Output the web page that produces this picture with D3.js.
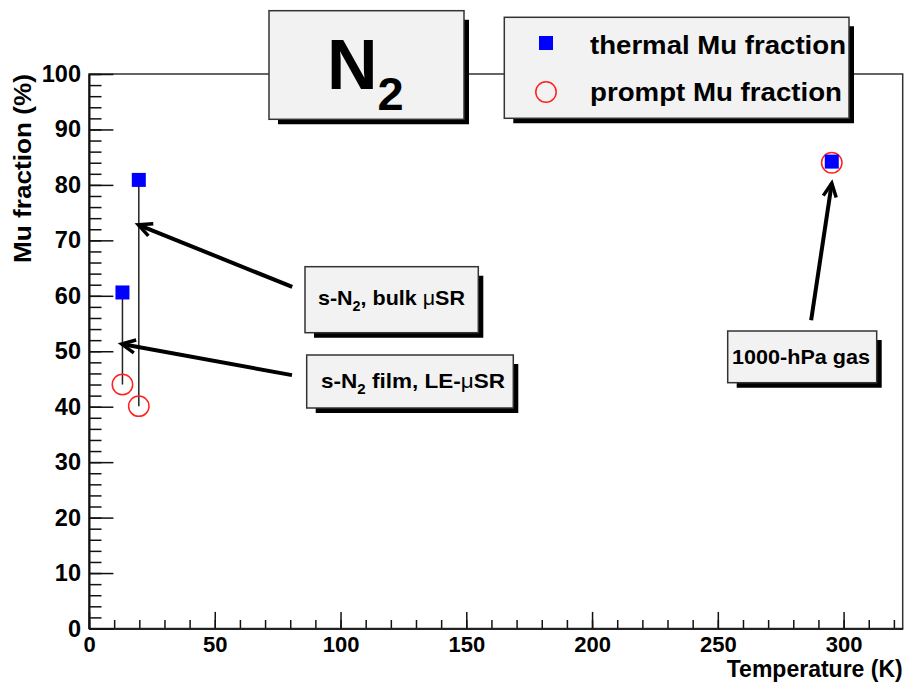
<!DOCTYPE html>
<html>
<head>
<meta charset="utf-8">
<script src="https://cdn.jsdelivr.net/npm/d3@7"></script>
<style>
  body { margin: 0; background: #fff; }
  text { font-family: "Liberation Sans", Arial, Helvetica, sans-serif; font-weight: bold; }
</style>
</head>
<body>
<div id="chart"></div>
<script>
// temperatures (K) and Mu fractions (%)
var temps = [13.3, 19.8, 295.3];
var thermal = [60.6, 80.9, 84.2];
var prompt = [44.0, 40.1, 84.0];

var xTicks = [0, 50, 100, 150, 200, 250, 300];
var yTicks = [0, 10, 20, 30, 40, 50, 60, 70, 80, 90, 100];

// annotation arrows, data coordinates [tailT, tailF, headT, headF]
var arrows = [
    [80.8, 61.6, 19.6, 72.8],
    [80.7, 45.7, 13.0, 51.3],
    [287.1, 55.6, 295.3, 80.3]
];

var legendNames = ["thermal Mu fraction", "prompt Mu fraction"];

var W = 904, H = 686;
var padL = 89, padR = 902.7, padT = 74, padB = 628.5;

var svg = d3.select("#chart").append("svg")
    .attr("width", W)
    .attr("height", H);

var x = d3.scaleLinear().domain([0, 323.5]).range([padL, padR]);
var y = d3.scaleLinear().domain([0, 100]).range([padB, padT]);

// frame
svg.append("rect")
    .attr("x", padL).attr("y", padT)
    .attr("width", padR - padL).attr("height", padB - padT)
    .attr("fill", "none").attr("stroke", "#333").attr("stroke-width", 1.5);

// minor ticks
svg.append("g")
    .attr("transform", "translate(0," + padB + ")")
    .call(d3.axisBottom(x).tickValues(d3.range(0, 324, 10)).tickSizeInner(-8.5).tickSizeOuter(0).tickFormat(""))
    .call(g => g.select(".domain").remove())
    .call(g => g.selectAll("line").attr("stroke", "#111").attr("stroke-width", 1.5));

svg.append("g")
    .attr("transform", "translate(" + padL + ",0)")
    .call(d3.axisLeft(y).tickValues(d3.range(0, 101, 2)).tickSizeInner(-12.5).tickSizeOuter(0).tickFormat(""))
    .call(g => g.select(".domain").remove())
    .call(g => g.selectAll("line").attr("stroke", "#111").attr("stroke-width", 1.5));

// major ticks + labels
var xAxis = svg.append("g")
    .attr("transform", "translate(0," + padB + ")")
    .call(d3.axisBottom(x).tickValues(xTicks).tickSizeInner(-16.6).tickSizeOuter(0).tickPadding(8));
xAxis.select(".domain").attr("stroke", "#222").attr("stroke-width", 2);
xAxis.selectAll("line").attr("stroke", "#111").attr("stroke-width", 1.5);
xAxis.selectAll("text").attr("fill", "#000").style("font-size", "22px")
    .style("font-family", "'Liberation Sans', Arial, sans-serif").style("font-weight", "bold");

var yAxis = svg.append("g")
    .attr("transform", "translate(" + padL + ",0)")
    .call(d3.axisLeft(y).tickValues(yTicks).tickSizeInner(-24.4).tickSizeOuter(0).tickPadding(8));
yAxis.select(".domain").attr("stroke", "#111").attr("stroke-width", 2);
yAxis.selectAll("line").attr("stroke", "#111").attr("stroke-width", 1.5);
yAxis.selectAll("text").attr("fill", "#000").style("font-size", "23.5px")
    .style("font-family", "'Liberation Sans', Arial, sans-serif").style("font-weight", "bold");

// axis titles
svg.append("text")
    .attr("x", padR).attr("y", 677)
    .attr("text-anchor", "end")
    .style("font-size", "23px")
    .text("Temperature (K)");

svg.append("text")
    .attr("transform", "translate(31," + padT + ") rotate(-90)")
    .attr("text-anchor", "end")
    .attr("textLength", 189).attr("lengthAdjust", "spacingAndGlyphs")
    .style("font-size", "23px")
    .text("Mu fraction (%)");

// vertical bars between thermal and prompt
svg.selectAll(".bar")
    .data(temps.slice(0, 2))
    .join("line")
    .attr("class", "bar")
    .attr("x1", d => x(d)).attr("x2", d => x(d))
    .attr("y1", (d, i) => y(thermal[i])).attr("y2", (d, i) => y(prompt[i]))
    .attr("stroke", "#222").attr("stroke-width", 1.5);

// prompt circles
svg.selectAll(".prompt")
    .data(temps)
    .join("circle")
    .attr("class", "prompt")
    .attr("cx", d => x(d)).attr("cy", (d, i) => y(prompt[i]))
    .attr("r", 10.2)
    .attr("fill", "none").attr("stroke", "#ff2020").attr("stroke-width", 1.5);

// thermal squares
svg.selectAll(".thermal")
    .data(temps)
    .join("rect")
    .attr("class", "thermal")
    .attr("x", d => x(d) - 7).attr("y", (d, i) => y(thermal[i]) - 7)
    .attr("width", 14).attr("height", 14)
    .attr("fill", "#0000ff");

// arrows
function drawArrow(a) {
    var x0 = x(a[0]), y0 = y(a[1]), x1 = x(a[2]), y1 = y(a[3]);
    var ang = Math.atan2(y1 - y0, x1 - x0);
    var len = 15, spread = 0.45;
    svg.append("line")
        .attr("x1", x0).attr("y1", y0).attr("x2", x1).attr("y2", y1)
        .attr("stroke", "#000").attr("stroke-width", 4);
    var p1 = [x1 - len * Math.cos(ang - spread), y1 - len * Math.sin(ang - spread)];
    var p2 = [x1 - len * Math.cos(ang + spread), y1 - len * Math.sin(ang + spread)];
    svg.append("path")
        .attr("d", "M" + p1 + "L" + [x1, y1] + "L" + p2)
        .attr("fill", "none").attr("stroke", "#000").attr("stroke-width", 3.5);
}
arrows.forEach(drawArrow);

// boxes with shadows (ROOT style pave)
function pave(x0, y0, x1, y1, dOff, dShadow) {
    svg.append("path")
        .attr("d", "M" + (x0 + dOff) + "," + y1 + "H" + x1 + "V" + (y0 + dOff) +
            "H" + (x1 + dShadow) + "V" + (y1 + dShadow) + "H" + (x0 + dOff) + "Z")
        .attr("fill", "#000");
    svg.append("rect")
        .attr("x", x0).attr("y", y0).attr("width", x1 - x0).attr("height", y1 - y0)
        .attr("fill", "#f2f2f2").attr("stroke", "#333").attr("stroke-width", 1.5);
}

// title
pave(269, 10.7, 464, 119.3, 9, 5);
var title = svg.append("text").attr("x", 327).attr("y", 88.5)
    .style("font-size", "70px");
title.append("tspan").text("N");
title.append("tspan").attr("dy", 21).style("font-size", "47px").text("2");

// legend
pave(504.3, 17.3, 849, 118.3, 9, 5);
svg.append("rect").attr("x", 539).attr("y", 36).attr("width", 14).attr("height", 14).attr("fill", "#0000ff");
svg.append("circle").attr("cx", 546).attr("cy", 92).attr("r", 10.2)
    .attr("fill", "none").attr("stroke", "#ff2020").attr("stroke-width", 1.5);
svg.selectAll(".legtext")
    .data(legendNames)
    .join("text")
    .attr("class", "legtext")
    .attr("x", 590)
    .attr("y", (d, i) => 53.5 + i * 47)
    .attr("textLength", (d, i) => i == 0 ? 256 : 252)
    .attr("lengthAdjust", "spacingAndGlyphs")
    .style("font-size", "25px")
    .text(d => d);

// annotation label boxes
function subLabel(tx, ty, pre, post, len) {
    var t = svg.append("text").attr("x", tx).attr("y", ty).style("font-size", "21px")
        .attr("textLength", len).attr("lengthAdjust", "spacingAndGlyphs");
    t.append("tspan").text("s-N");
    t.append("tspan").attr("dy", 6).style("font-size", "14px").text("2");
    t.append("tspan").attr("dy", -6).text(pre);
    t.append("tspan").style("font-weight", "normal").text("\u03bc");
    t.append("tspan").text(post);
}

pave(305, 266.7, 478.3, 332.7, 9, 5);
subLabel(318, 305, ", bulk ", "SR", 147);

pave(306.7, 355, 513.3, 408, 9, 5);
subLabel(321, 388, " film, LE-", "SR", 184);

pave(727.7, 331, 876.7, 382.7, 9, 5);
svg.append("text").attr("x", 732).attr("y", 364)
    .attr("textLength", 138).attr("lengthAdjust", "spacingAndGlyphs")
    .style("font-size", "21px").text("1000-hPa gas");
</script>
</body>
</html>
